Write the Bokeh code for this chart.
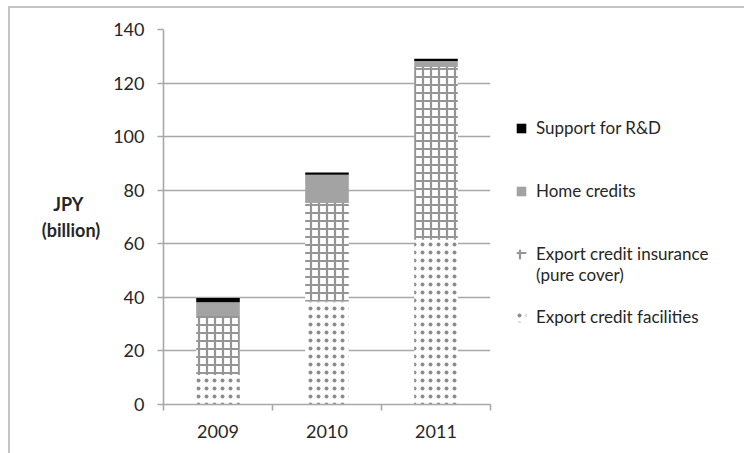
from bokeh.plotting import figure
from bokeh.models import Range1d, FixedTicker, Legend, LegendItem
from bokeh.embed import file_html
from bokeh.resources import INLINE

years = ["2009", "2010", "2011"]
export_credit_facilities = [11.0, 38.5, 61.5]
export_credit_insurance = [22.0, 36.7, 64.5]
home_credits = [5.2, 10.6, 2.2]
support_rd = [1.6, 0.8, 0.9]
y_ticks = [0, 20, 40, 60, 80, 100, 120, 140]

series_names = ["Export credit facilities", "Export credit insurance", "Home credits", "Support for R&D"]
keys = ["fac", "ins", "home", "rd"]

FONT = "Lato"
GRID = "#a8a8a8"
TXT = "#262626"

x_pos = [i + 0.5 for i in range(len(years))]
source = dict(x=x_pos, fac=export_credit_facilities, ins=export_credit_insurance,
              home=home_credits, rd=support_rd)

p = figure(frame_width=327, frame_height=375, x_range=Range1d(0, len(years)), y_range=Range1d(0, 140),
           output_backend="svg", toolbar_location=None,
           min_border_left=153, min_border_right=254, min_border_top=21, min_border_bottom=49)
p.styles = {"border-top": "2px solid #c4c4c4", "border-left": "2px solid #c4c4c4",
            "margin-top": "6px", "margin-left": "8px"}
p.outline_line_color = None
p.background_fill_color = "white"
p.border_fill_color = "white"

renderers = p.vbar_stack(
    keys, x="x", width=0.4, source=source,
    fill_color=["white", "white", "#a3a3a3", "black"],
    line_color=None,
    hatch_pattern=["dot", "cross", " ", " "],
    hatch_color=["#8c8c8c", "#959595", "#a3a3a3", "black"],
    hatch_scale=[8, 8, 8, 8],
    hatch_weight=[2.2, 2.2, 1, 1],
)
dummy = p.vbar(x=[], top=[], width=0.1, fill_alpha=0, line_alpha=0)

# axes
p.xgrid.grid_line_color = None
p.ygrid.grid_line_color = GRID
p.ygrid.grid_line_width = 1.6
p.ygrid.ticker = FixedTicker(ticks=y_ticks)

p.yaxis.ticker = FixedTicker(ticks=y_ticks)
p.yaxis.axis_line_color = GRID
p.yaxis.axis_line_width = 1.6
p.yaxis.major_tick_line_color = GRID
p.yaxis.major_tick_line_width = 1.6
p.yaxis.major_tick_out = 6
p.yaxis.major_tick_in = 0
p.yaxis.minor_tick_line_color = None
p.yaxis.major_label_standoff = 13
p.yaxis.major_label_text_font = FONT
p.yaxis.major_label_text_font_size = "18px"
p.yaxis.major_label_text_color = TXT

p.xaxis.ticker = FixedTicker(ticks=x_pos, minor_ticks=list(range(len(years) + 1)))
p.xaxis.major_label_overrides = {x: y for x, y in zip(x_pos, years)}
p.xaxis.axis_line_color = GRID
p.xaxis.axis_line_width = 1.6
p.xaxis.major_tick_line_color = None
p.xaxis.minor_tick_line_color = GRID
p.xaxis.minor_tick_line_width = 1.6
p.xaxis.minor_tick_out = 6
p.xaxis.minor_tick_in = 0
p.xaxis.major_label_standoff = 14
p.xaxis.major_label_text_font = FONT
p.xaxis.major_label_text_font_size = "18px"
p.xaxis.major_label_text_color = TXT

# y title, horizontal
ya = p.yaxis[0]
ya.axis_label = "JPY\u00a0\u00a0\u00a0\u00a0\n(billion)"
ya.axis_label_orientation = "horizontal"
ya.axis_label_text_align = "center"
ya.axis_label_standoff = 10
ya.axis_label_text_font = FONT
ya.axis_label_text_font_size = "18px"
ya.axis_label_text_font_style = "bold"
ya.axis_label_text_color = TXT

# legend, with blank spacer rows to reproduce the uneven vertical placement
def item(label, r):
    return LegendItem(label=label, renderers=[r])

items = [
    item(" ", dummy), item(" ", dummy), item(" ", dummy),
    item(series_names[3], renderers[3]),
    item(" ", dummy), item(" ", dummy),
    item(series_names[2], renderers[2]),
    item(" ", dummy), item(" ", dummy),
    item(series_names[1], renderers[1]),
    item("(pure cover)", dummy),
    item(" ", dummy),
    item(series_names[0], renderers[0]),
]
leg = Legend(items=items, location="top_left", margin=25, padding=0, spacing=0,
             border_line_color=None, background_fill_alpha=0, label_height=21,
             glyph_height=12, glyph_width=12, label_standoff=9, label_text_font=FONT,
             label_text_font_size="17px", label_text_color=TXT, label_text_baseline="middle")
p.add_layout(leg, "right")

open("out.html", "w").write(file_html(p, INLINE))
